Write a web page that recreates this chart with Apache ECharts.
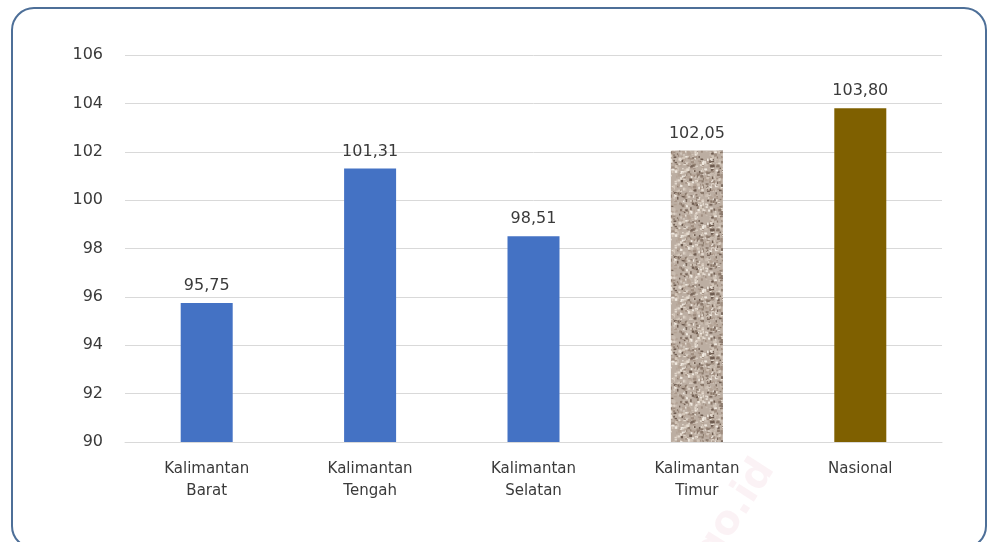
<!DOCTYPE html>
<html>
<head>
<meta charset="utf-8">
<script src="https://cdn.jsdelivr.net/npm/echarts@6/dist/echarts.min.js"></script>
<style>
  html, body { margin: 0; padding: 0; background: #ffffff; }
  #chart { width: 989px; height: 542px; }
</style>
</head>
<body>
<div id="chart"></div>
<script>
// Regions and their index values
const categories = ['Kalimantan\nBarat', 'Kalimantan\nTengah', 'Kalimantan\nSelatan', 'Kalimantan\nTimur', 'Nasional'];
const values = [95.75, 101.31, 98.51, 102.05, 103.80];
const yTicks = [90, 92, 94, 96, 98, 100, 102, 104, 106];

// Granite-like texture for the Kalimantan Timur bar (deterministic speckles)
function graniteTexture() {
  const c = document.createElement('canvas');
  c.width = 64; c.height = 64;
  const g = c.getContext('2d');
  g.fillStyle = '#bcaea2';
  g.fillRect(0, 0, 64, 64);
  let s = 12345;
  const rnd = () => { s = (s * 1103515245 + 12345) & 0x7fffffff; return s / 0x7fffffff; };
  const tones = ['#e3d9ce', '#d2c5b8', '#a08e80', '#8c7a6c', '#c9bcb0', '#efe8df', '#6e5c50', '#b3a294'];
  for (let i = 0; i < 700; i++) {
    g.fillStyle = tones[Math.floor(rnd() * tones.length)];
    const x = rnd() * 64, y = rnd() * 64;
    const w = 1 + rnd() * 2.4, h = 1 + rnd() * 2;
    g.fillRect(x, y, w, h);
  }
  return c;
}

const barColors = ['#4472c4', '#4472c4', '#4472c4', { image: graniteTexture(), repeat: 'repeat' }, '#7f6000'];
const fmt = v => v.toFixed(2).replace('.', ',');
const textColor = '#3a3a3a';
const font = 'DejaVu Sans';

const chart = echarts.init(document.getElementById('chart'));
chart.setOption({
  animation: false,
  backgroundColor: '#ffffff',
  grid: { left: 125, right: 47, top: 55, bottom: 100 },
  xAxis: {
    type: 'category',
    data: categories,
    axisLine: { show: true, lineStyle: { color: '#d9d9d9', width: 1 } },
    axisTick: { show: false },
    axisLabel: { color: textColor, fontFamily: font, fontSize: 15, lineHeight: 22, margin: 16 }
  },
  yAxis: {
    type: 'value',
    min: yTicks[0],
    max: yTicks[yTicks.length - 1],
    interval: 2,
    axisLine: { show: false },
    axisTick: { show: false },
    splitLine: { lineStyle: { color: '#d9d9d9', width: 1 } },
    axisLabel: { color: textColor, fontFamily: font, fontSize: 16, margin: 22 }
  },
  series: [{
    type: 'bar',
    barWidth: 52,
    data: values.map((v, i) => ({ value: v, itemStyle: { color: barColors[i] } })),
    label: {
      show: true,
      position: 'top',
      distance: 9,
      color: textColor,
      fontFamily: font,
      fontSize: 16,
      formatter: p => fmt(p.value)
    }
  }],
  graphic: [
    {
      type: 'rect',
      z: 100,
      silent: true,
      shape: { x: 12, y: 8, width: 974, height: 540, r: 22 },
      style: { fill: null, stroke: '#4d6f98', lineWidth: 2 }
    },
    {
      type: 'text',
      z: 0,
      silent: true,
      x: 688, y: 548,
      rotation: 1.0,
      style: { text: 'go.id', fill: 'rgba(230,160,185,0.14)', font: 'bold 40px "DejaVu Sans"' }
    }
  ]
});
</script>
</body>
</html>
